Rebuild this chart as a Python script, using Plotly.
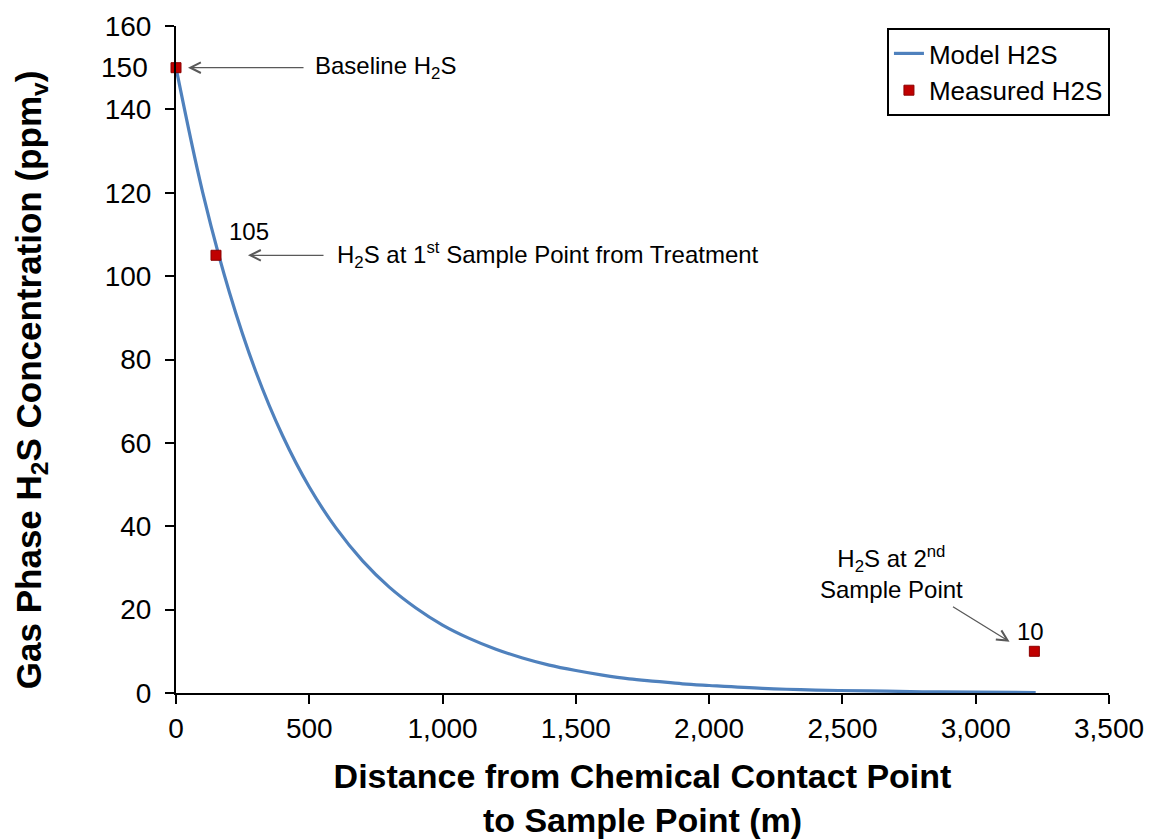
import plotly.graph_objects as go

# Model H2S curve
model_distance = [0, 100, 200, 300, 400, 500, 600, 700, 800, 900, 1000, 1100, 1200,
                  1300, 1400, 1500, 1600, 1700, 1800, 1900, 2000, 2200, 2400, 2600,
                  2800, 3000, 3225]
model_h2s = [150, 120.1, 96.2, 77.0, 61.7, 49.4, 39.6, 31.7, 25.4, 20.4, 16.3, 13.1, 10.5,
             8.4, 6.7, 5.4, 4.3, 3.4, 2.8, 2.2, 1.8, 1.1, 0.7, 0.5, 0.3, 0.2, 0.1]

# Measured H2S
measured_distance = [0, 150, 3220]
measured_h2s = [150, 105, 10]
measured_labels = ["150", "105", "10"]

x_ticks = [0, 500, 1000, 1500, 2000, 2500, 3000, 3500]
y_ticks = [0, 20, 40, 60, 80, 100, 120, 140, 160]

FONT = "Liberation Sans, Arial, sans-serif"

fig = go.Figure()
fig.add_trace(go.Scatter(
    x=model_distance, y=model_h2s, mode="lines", name="Model H2S",
    line=dict(color="#4F81BD", width=3.2, shape="spline"),
))
fig.add_trace(go.Scatter(
    x=measured_distance, y=measured_h2s, mode="markers", name="Measured H2S",
    marker=dict(symbol="square", size=10, color="#C00000",
                line=dict(color="#8B0000", width=1)),
    cliponaxis=False,
))

ann = []
# data labels
ann.append(dict(x=measured_distance[0], y=measured_h2s[0], text=measured_labels[0],
                showarrow=False, xanchor="right", xshift=-26,
                font=dict(size=28, color="black", family=FONT)))
ann.append(dict(x=measured_distance[1], y=measured_h2s[1], text=measured_labels[1],
                showarrow=False, xanchor="center", xshift=33, yshift=24,
                font=dict(size=24, color="black", family=FONT)))
ann.append(dict(x=measured_distance[2], y=measured_h2s[2], text=measured_labels[2],
                showarrow=False, xanchor="center", xshift=-4, yshift=20,
                font=dict(size=24, color="black", family=FONT)))

arrow_style = dict(showarrow=True, arrowhead=5, arrowsize=1.6, arrowwidth=1.3,
                   arrowcolor="#595959", text="", xref="x", yref="y",
                   axref="x", ayref="y", standoff=0, startstandoff=0)
# Baseline arrow
ann.append(dict(x=45, y=150, ax=484, ay=150, **arrow_style))
ann.append(dict(x=514, y=150, text="Baseline H<sub>2</sub>S", showarrow=False,
                xanchor="left", font=dict(size=24, color="black", family=FONT)))
# 1st sample arrow
ann.append(dict(x=270, y=105, ax=559, ay=105, **arrow_style))
ann.append(dict(x=596, y=105, text="H<sub>2</sub>S at 1<sup>st</sup> Sample Point from Treatment",
                showarrow=False, xanchor="left",
                font=dict(size=24, color="black", family=FONT)))
# 2nd sample arrow
ann.append(dict(x=3127, y=12.3, ax=2909, ay=20.9, **arrow_style))
ann.append(dict(x=2685, y=29, text="H<sub>2</sub>S at 2<sup>nd</sup><br>Sample Point",
                showarrow=False, xanchor="center", align="center",
                font=dict(size=24, color="black", family=FONT)))
# y-axis title (placed as in the reference)
ann.append(dict(x=-0.1554, y=0.469, xref="paper", yref="paper", showarrow=False,
                text="<b>Gas Phase H<sub>2</sub>S Concentration (ppm<sub>v</sub>)</b>",
                textangle=-90, xanchor="center", yanchor="middle",
                font=dict(size=35, color="black", family=FONT)))

fig.update_layout(
    width=1165, height=839,
    margin=dict(l=176, r=56, t=26, b=146, autoexpand=False),
    paper_bgcolor="white", plot_bgcolor="white",
    font=dict(family=FONT, color="black"),
    annotations=ann,
    showlegend=True,
    legend=dict(x=0.762, y=0.997, xanchor="left", yanchor="top",
                bordercolor="black", borderwidth=2, bgcolor="white",
                font=dict(size=26, color="black", family=FONT)),
)
fig.update_xaxes(
    range=[0, 3500], tickvals=x_ticks,
    tickformat=",d", showgrid=False, zeroline=False, automargin=False,
    showline=True, linecolor="black", linewidth=2,
    ticks="outside", ticklen=9, tickwidth=2, tickcolor="black",
    tickfont=dict(size=28, color="black", family=FONT),
    title=dict(text="<b>Distance from Chemical Contact Point<br>to Sample Point (m)</b>",
               font=dict(size=34, color="black", family=FONT), standoff=29),
)
fig.update_yaxes(
    range=[0, 160], tickvals=y_ticks,
    showgrid=False, zeroline=False, automargin=False,
    showline=True, linecolor="black", linewidth=2,
    ticks="outside", ticklen=9, tickwidth=2, tickcolor="black",
    tickfont=dict(size=28, color="black", family=FONT),
    ticklabelstandoff=8,
)

fig.write_html("out.html")
